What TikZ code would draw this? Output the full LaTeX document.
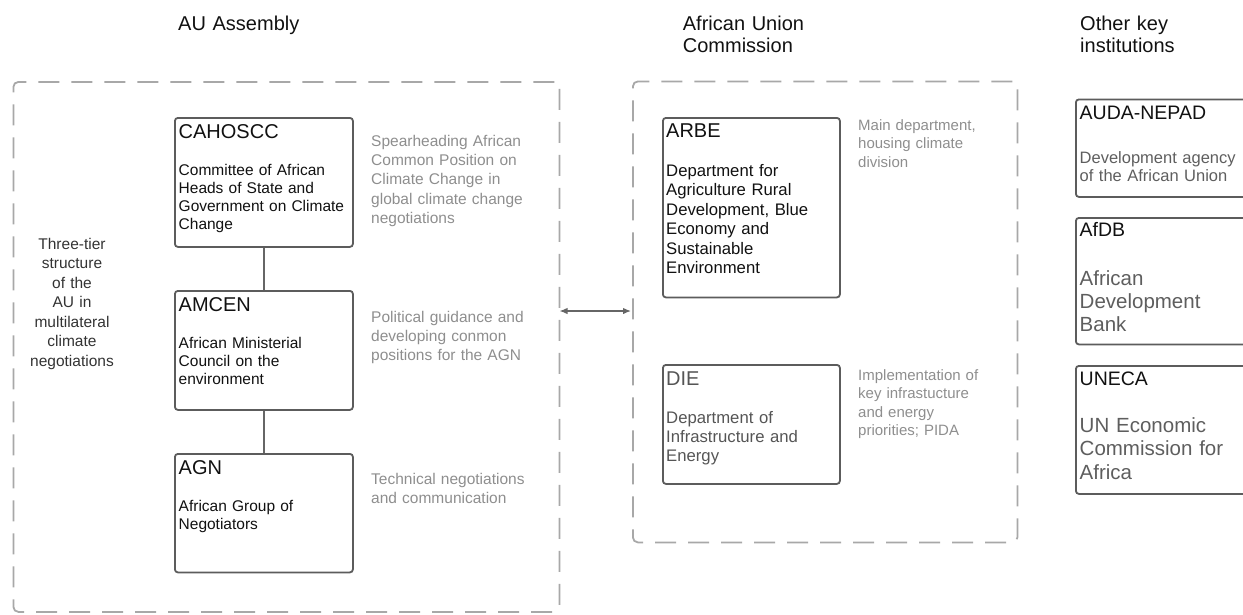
\documentclass[tikz,border=0pt]{standalone}
\usepackage{fontspec}
\setmainfont{Liberation Sans}
\usetikzlibrary{arrows.meta}
\definecolor{boxline}{HTML}{5C5C5C}
\definecolor{dashline}{HTML}{A8A8A8}
\definecolor{notegray}{HTML}{8E8E8E}
\definecolor{diegray}{HTML}{555555}
\definecolor{rbody}{HTML}{5E5E5E}
\definecolor{threegray}{HTML}{333333}
\definecolor{arrowgray}{HTML}{666666}
\definecolor{ink}{HTML}{111111}
\begin{document}
\begin{tikzpicture}[x=1pt,y=-1pt,
  txt/.style={anchor=base west, inner sep=0pt, text width=240pt, align=left},
  ttl/.style={txt, font=\fontsize{20}{22.5}\selectfont, text=ink},
  btitle/.style={txt, font=\fontsize{20}{22}\selectfont, text=ink},
  bbody/.style={txt, font=\fontsize{15.5}{18}\selectfont, text=ink},
  mbody/.style={txt, font=\fontsize{16.7}{19.5}\selectfont, text=ink},
  note/.style={txt, font=\fontsize{15.5}{19.2}\selectfont, text=notegray},
  mnote/.style={txt, font=\fontsize{15}{18.6}\selectfont, text=notegray},
  rsmall/.style={txt, font=\fontsize{16.5}{17.8}\selectfont, text=rbody},
  rbig/.style={txt, font=\fontsize{20.5}{23.3}\selectfont, text=rbody},
  box/.style={draw=boxline, line width=1.8pt, rounded corners=3pt, anchor=north west, inner sep=0pt},
  group/.style={draw=dashline, line width=1.8pt, rounded corners=5pt, dash pattern=on 21pt off 12pt, anchor=north west, inner sep=0pt},
  conn/.style={draw=arrowgray, line width=1.2pt},
  dblarrow/.style={draw=arrowgray, line width=1.3pt, {Latex[length=8pt,width=6.5pt]}-{Latex[length=8pt,width=6.5pt]}}
]
\useasboundingbox (0,0) rectangle (1243,614);
\clip (0,0) rectangle (1243,614);

% column titles
\node[ttl] (tAU) at (178,30) {AU Assembly};
\node[ttl] (tAUC) at (682.7,30) {African Union\\Commission};
\node[ttl] (tOK) at (1080,30) {Other key\\institutions};

% dashed groups
\node[group, minimum width=546pt, minimum height=530pt] (gAU) at (12.5,81) {};
\node[group, minimum width=384.5pt, minimum height=461pt] (gAUC) at (632,80.5) {};

% three-tier label
\node[anchor=base, inner sep=0pt, text width=110pt, align=center,
      font=\fontsize{15.5}{19.5}\selectfont, text=threegray] (three) at (72,249)
  {Three-tier\\structure\\of the\\AU in\\multilateral\\climate\\negotiations};

% AU Assembly boxes
\node[box, minimum width=178pt, minimum height=129pt] (cahoscc) at (174,117) {};
\node[btitle] (cahosccT) at (178.5,138) {CAHOSCC};
\node[bbody] (cahosccB) at (178.5,175) {Committee of African\\Heads of State and\\Government on Climate\\Change};

\node[box, minimum width=178pt, minimum height=119pt] (amcen) at (174,290) {};
\node[btitle] (amcenT) at (178.5,311) {AMCEN};
\node[bbody] (amcenB) at (178.5,348) {African Ministerial\\Council on the\\environment};

\node[box, minimum width=178pt, minimum height=118.5pt] (agn) at (174,453) {};
\node[btitle] (agnT) at (178.5,474) {AGN};
\node[bbody] (agnB) at (178.5,511) {African Group of\\Negotiators};

\draw[conn] (cahoscc.south) -- (amcen.north);
\draw[conn] (amcen.south) -- (agn.north);

% notes
\node[note] (n1) at (371,146.5) {Spearheading African\\Common Position on\\Climate Change in\\global climate change\\negotiations};
\node[note] (n2) at (371,322) {Political guidance and\\developing conmon\\positions for the AGN};
\node[note] (n3) at (371,484.5) {Technical negotiations\\and communication};

% arrow between groups
\coordinate (aL) at (559.5,311);
\coordinate (aR) at (631,311);
\draw[dblarrow] (aL) -- (aR);

% AUC boxes
\node[box, minimum width=177pt, minimum height=179.5pt] (arbe) at (662,117) {};
\node[btitle] (arbeT) at (666,137) {ARBE};
\node[mbody] (arbeB) at (666,176) {Department for\\Agriculture Rural\\Development, Blue\\Economy and\\Sustainable\\Environment};

\node[box, minimum width=177pt, minimum height=119pt] (die) at (662,364) {};
\node[btitle, text=diegray] (dieT) at (666,385) {DIE};
\node[mbody, text=diegray, font=\fontsize{16.7}{19.2}\selectfont] (dieB) at (666,423.3) {Department of\\Infrastructure and\\Energy};

\node[mnote] (n4) at (858,130) {Main department,\\housing climate\\division};
\node[mnote] (n5) at (858,380) {Implementation of\\key infrastucture\\and energy\\priorities; PIDA};

% other institutions
\node[box, minimum width=200pt, minimum height=97.5pt] (auda) at (1075,98.5) {};
\node[btitle, font=\fontsize{19.5}{22}\selectfont] (audaT) at (1079.5,119) {AUDA-NEPAD};
\node[rsmall] (audaB) at (1079.5,163.3) {Development agency\\of the African Union};

\node[box, minimum width=200pt, minimum height=126.5pt] (afdb) at (1075,217) {};
\node[btitle, font=\fontsize{19.5}{22}\selectfont] (afdbT) at (1079.5,236) {AfDB};
\node[rbig] (afdbB) at (1079.5,285) {African\\Development\\Bank};

\node[box, minimum width=200pt, minimum height=128pt] (uneca) at (1075,365) {};
\node[btitle, font=\fontsize{19.5}{22}\selectfont] (unecaT) at (1079.5,385) {UNECA};
\node[rbig] (unecaB) at (1079.5,432.5) {UN Economic\\Commission for\\Africa};
\end{tikzpicture}
\end{document}
